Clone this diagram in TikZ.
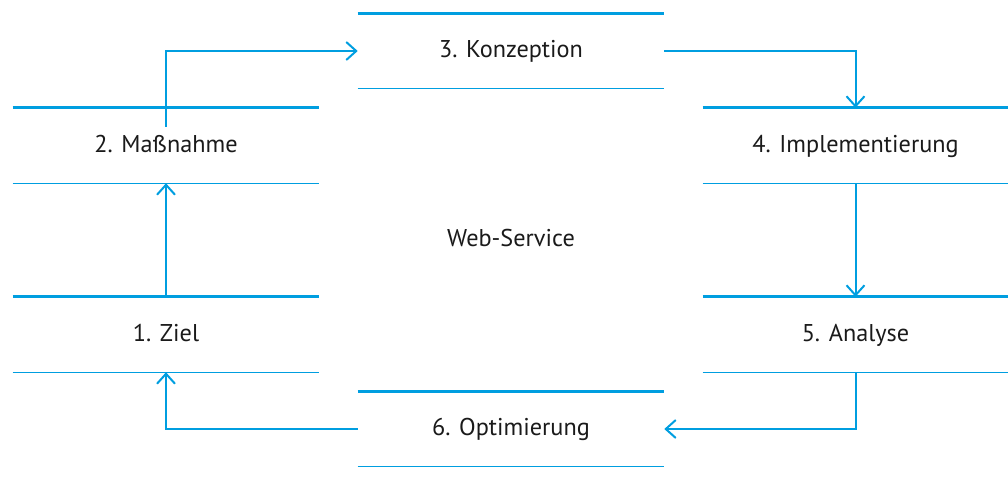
\documentclass[tikz,border=0pt]{standalone}
\usepackage{fontspec}
\setmainfont{PT Sans}
\usetikzlibrary{arrows.meta,calc}
\definecolor{lineblue}{RGB}{0,158,224}
\definecolor{txt}{RGB}{26,26,26}
\tikzset{
  lbl/.style={font=\fontsize{18.2}{21}\selectfont,text=txt,text height=1.2em,text depth=0.2em},
  stage/.style={lbl,minimum width=229.5pt,minimum height=56.25pt,inner sep=0pt},
  topline/.style={draw=lineblue,line width=1.9pt},
  botline/.style={draw=lineblue,line width=0.85pt},
  conn/.style={draw=lineblue,line width=1.5pt,
    -{Straight Barb[length=7.5pt,width=13.5pt,line width=1.5pt]}},
}
\begin{document}
\begin{tikzpicture}[x=0.75pt,y=-0.75pt]
\useasboundingbox (0,0) rectangle (1008,501);
\node[stage] (b3) at (511,51) {3. Konzeption};
\node[stage] (b2) at (166,145.5) {2. Maßnahme};
\node[stage,minimum width=228.75pt] (b4) at (855.5,145.5) {4. Implementierung};
\node[stage] (b1) at (166,334.5) {1. Ziel};
\node[stage,minimum width=228.75pt] (b5) at (855.5,334.5) {5. Analyse};
\node[stage] (b6) at (511,429) {6. Optimierung};
\node[lbl,inner sep=0pt] (ws) at (511,240) {Web-Service};
\foreach \b in {b1,b2,b3,b4,b5,b6}{
  \draw[topline] (\b.north west) -- (\b.north east);
  \draw[botline] (\b.south west) -- (\b.south east);
}
\coordinate (s2) at ($(b2.north)+(0,19)$);
\draw[conn] (s2) |- (b3.west);
\draw[conn] (b3.east) -| (b4.north);
\draw[conn] (b4.south) -- (b5.north);
\draw[conn] (b5.south) |- (b6.east);
\draw[conn] (b6.west) -| (b1.south);
\draw[conn] (b1.north) -- (b2.south);
\end{tikzpicture}
\end{document}
